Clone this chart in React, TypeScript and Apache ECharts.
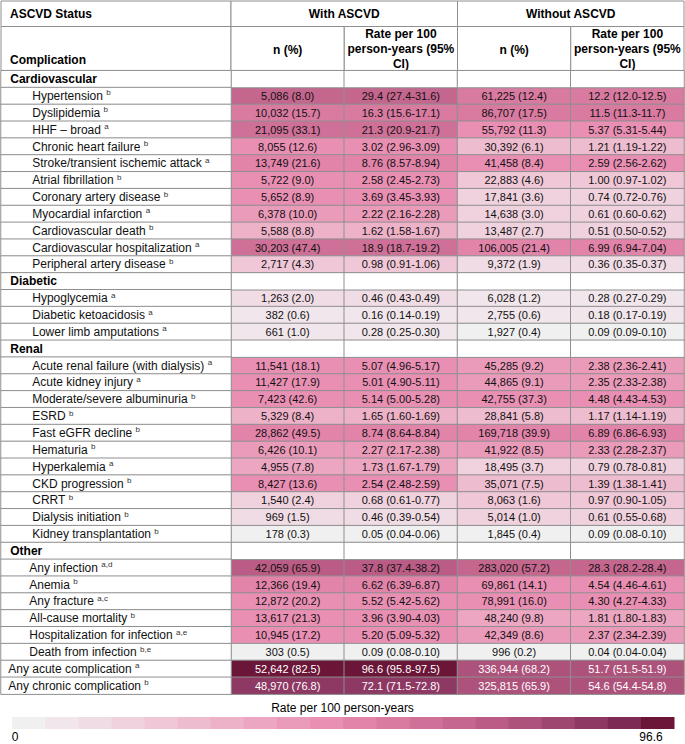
import React, { useEffect, useRef } from "react";
import * as echarts from "echarts";

// ---------- data ----------
const rowLabels = [
  "Cardiovascular",
  "Hypertension",
  "Dyslipidemia",
  "HHF – broad",
  "Chronic heart failure",
  "Stroke/transient ischemic attack",
  "Atrial fibrillation",
  "Coronary artery disease",
  "Myocardial infarction",
  "Cardiovascular death",
  "Cardiovascular hospitalization",
  "Peripheral artery disease",
  "Diabetic",
  "Hypoglycemia",
  "Diabetic ketoacidosis",
  "Lower limb amputations",
  "Renal",
  "Acute renal failure (with dialysis)",
  "Acute kidney injury",
  "Moderate/severe albuminuria",
  "ESRD",
  "Fast eGFR decline",
  "Hematuria",
  "Hyperkalemia",
  "CKD progression",
  "CRRT",
  "Dialysis initiation",
  "Kidney transplantation",
  "Other",
  "Any infection",
  "Anemia",
  "Any fracture",
  "All-cause mortality",
  "Hospitalization for infection",
  "Death from infection",
  "Any acute complication",
  "Any chronic complication",
];

const rowSup = [
  "", "b", "b", "a", "b", "a", "b", "b", "a", "b", "a", "b",
  "", "a", "a", "a",
  "", "a", "a", "b", "b", "b", "b", "a", "b", "b", "b", "b",
  "", "a,d", "b", "a,c", "b", "a,e", "b,e",
  "a", "b",
];

// g = group heading, i = item, o = item of "Other", t = total
const rowType = [
  "g", "i", "i", "i", "i", "i", "i", "i", "i", "i", "i", "i",
  "g", "i", "i", "i",
  "g", "i", "i", "i", "i", "i", "i", "i", "i", "i", "i", "i",
  "g", "o", "o", "o", "o", "o", "o",
  "t", "t",
];

const nWith = [
  "", "5,086 (8.0)", "10,032 (15.7)", "21,095 (33.1)", "8,055 (12.6)", "13,749 (21.6)",
  "5,722 (9.0)", "5,652 (8.9)", "6,378 (10.0)", "5,588 (8.8)", "30,203 (47.4)", "2,717 (4.3)",
  "", "1,263 (2.0)", "382 (0.6)", "661 (1.0)",
  "", "11,541 (18.1)", "11,427 (17.9)", "7,423 (42.6)", "5,329 (8.4)", "28,862 (49.5)",
  "6,426 (10.1)", "4,955 (7.8)", "8,427 (13.6)", "1,540 (2.4)", "969 (1.5)", "178 (0.3)",
  "", "42,059 (65.9)", "12,366 (19.4)", "12,872 (20.2)", "13,617 (21.3)", "10,945 (17.2)", "303 (0.5)",
  "52,642 (82.5)", "48,970 (76.8)",
];

const rateWith = [
  "", "29.4 (27.4-31.6)", "16.3 (15.6-17.1)", "21.3 (20.9-21.7)", "3.02 (2.96-3.09)", "8.76 (8.57-8.94)",
  "2.58 (2.45-2.73)", "3.69 (3.45-3.93)", "2.22 (2.16-2.28)", "1.62 (1.58-1.67)", "18.9 (18.7-19.2)", "0.98 (0.91-1.06)",
  "", "0.46 (0.43-0.49)", "0.16 (0.14-0.19)", "0.28 (0.25-0.30)",
  "", "5.07 (4.96-5.17)", "5.01 (4.90-5.11)", "5.14 (5.00-5.28)", "1.65 (1.60-1.69)", "8.74 (8.64-8.84)",
  "2.27 (2.17-2.38)", "1.73 (1.67-1.79)", "2.54 (2.48-2.59)", "0.68 (0.61-0.77)", "0.46 (0.39-0.54)", "0.05 (0.04-0.06)",
  "", "37.8 (37.4-38.2)", "6.62 (6.39-6.87)", "5.52 (5.42-5.62)", "3.96 (3.90-4.03)", "5.20 (5.09-5.32)", "0.09 (0.08-0.10)",
  "96.6 (95.8-97.5)", "72.1 (71.5-72.8)",
];

const nWithout = [
  "", "61,225 (12.4)", "86,707 (17.5)", "55,792 (11.3)", "30,392 (6.1)", "41,458 (8.4)",
  "22,883 (4.6)", "17,841 (3.6)", "14,638 (3.0)", "13,487 (2.7)", "106,005 (21.4)", "9,372 (1.9)",
  "", "6,028 (1.2)", "2,755 (0.6)", "1,927 (0.4)",
  "", "45,285 (9.2)", "44,865 (9.1)", "42,755 (37.3)", "28,841 (5.8)", "169,718 (39.9)",
  "41,922 (8.5)", "18,495 (3.7)", "35,071 (7.5)", "8,063 (1.6)", "5,014 (1.0)", "1,845 (0.4)",
  "", "283,020 (57.2)", "69,861 (14.1)", "78,991 (16.0)", "48,240 (9.8)", "42,349 (8.6)", "996 (0.2)",
  "336,944 (68.2)", "325,815 (65.9)",
];

const rateWithout = [
  "", "12.2 (12.0-12.5)", "11.5 (11.3-11.7)", "5.37 (5.31-5.44)", "1.21 (1.19-1.22)", "2.59 (2.56-2.62)",
  "1.00 (0.97-1.02)", "0.74 (0.72-0.76)", "0.61 (0.60-0.62)", "0.51 (0.50-0.52)", "6.99 (6.94-7.04)", "0.36 (0.35-0.37)",
  "", "0.28 (0.27-0.29)", "0.18 (0.17-0.19)", "0.09 (0.09-0.10)",
  "", "2.38 (2.36-2.41)", "2.35 (2.33-2.38)", "4.48 (4.43-4.53)", "1.17 (1.14-1.19)", "6.89 (6.86-6.93)",
  "2.33 (2.28-2.37)", "0.79 (0.78-0.81)", "1.39 (1.38-1.41)", "0.97 (0.90-1.05)", "0.61 (0.55-0.68)", "0.09 (0.08-0.10)",
  "", "28.3 (28.2-28.4)", "4.54 (4.46-4.61)", "4.30 (4.27-4.33)", "1.81 (1.80-1.83)", "2.37 (2.34-2.39)", "0.04 (0.04-0.04)",
  "51.7 (51.5-51.9)", "54.6 (54.4-54.8)",
];

const statusHeaders = ["With ASCVD", "Without ASCVD"];
const columnHeaders = ["n (%)", "Rate per 100\nperson-years (95%\nCI)", "n (%)", "Rate per 100\nperson-years (95%\nCI)"];
const legendTitle = "Rate per 100 person-years";
const legendMinLabel = "0";
const legendMaxLabel = "96.6";

// colour scale (20 steps)
const palette = [
  "#f0f0f0", "#f0e6eb", "#f0dce5", "#f0d2de", "#efc7d6",
  "#eebccf", "#edb1c8", "#eca6c1", "#eb9bba", "#e98fb3",
  "#e284aa", "#d97aa1", "#cf7098", "#c5668e", "#ba5c85",
  "#ad527b", "#9e4570", "#8e3864", "#7d2a55", "#6b1638",
];
const bounds = [0, 0.12, 0.33, 0.5, 0.8, 1.1, 1.5, 1.7, 2.0, 2.5, 6, 10, 17, 25, 35, 45, 60, 70, 80, 90, 1000];
const EMPTY = -1; // value of blank (white) cells

// ---------- layout ----------
const FONT = '"Liberation Sans", Arial, Helvetica, sans-serif';
const X0 = 1;
const XL = 231;
const XR = 684;
const COLW = (XR - XL) / 4;
const Y0 = 1;
const Y1 = 26.5;
const Y2 = 70.7;
const ROWH = 16.85;
const TABLE_H = ROWH * rowLabels.length;
const LINE = "#8f8f8f";

export default function App() {
  const ref = useRef<HTMLDivElement>(null);

  useEffect(() => {
    if (!ref.current) return;
    const chart = echarts.init(ref.current, null, { renderer: "svg" });

    const cellText = [nWith, rateWith, nWithout, rateWithout];
    const rateOf = (c: number, r: number) => parseFloat((c < 2 ? rateWith : rateWithout)[r]);

    const valueCells: any[] = [];
    const emptyCells: any[] = [];
    rowLabels.forEach((_, r) => {
      for (let c = 0; c < 4; c++) {
        if (rowType[r] === "g") {
          emptyCells.push([c, r, EMPTY]);
        } else {
          const v = rateOf(c, r);
          const item: any = { value: [c, r, v] };
          if (v > 45) item.label = { color: "#ffffff" };
          valueCells.push(item);
        }
      }
    });

    const indentOf = (t: string) => (t === "g" ? 10 : t === "o" ? 29 : t === "t" ? 8 : 32);
    const labelCells = rowLabels.map((_, r) => ({
      value: [0, r, EMPTY],
      label: { position: [indentOf(rowType[r]), "50%"] },
    }));

    const pieces: any[] = [{ lt: 0, color: "#ffffff" }].concat(
      palette.map((color, i) => ({ gte: bounds[i], lt: bounds[i + 1], color })) as any
    );

    const graphics: any[] = [];
    const rect = (x: number, y: number, w: number, h: number) =>
      graphics.push({
        type: "rect",
        shape: { x, y, width: w, height: h },
        style: { fill: "#ffffff", stroke: LINE, lineWidth: 1 },
        silent: true,
        z: 1,
      });
    const text = (t: string, x: number, y: number, align: string, bold: boolean, lh = 15) =>
      graphics.push({
        type: "text",
        x,
        y,
        style: {
          text: t,
          fill: "#000000",
          fontFamily: FONT,
          fontSize: 12,
          fontWeight: bold ? "bold" : "normal",
          align,
          verticalAlign: "middle",
          lineHeight: lh,
        },
        silent: true,
        z: 2,
      });

    // header row 1
    rect(X0, Y0, XL - X0, Y1 - Y0);
    rect(XL, Y0, COLW * 2, Y1 - Y0);
    rect(XL + COLW * 2, Y0, COLW * 2, Y1 - Y0);
    text("ASCVD Status", 10, 14, "left", true);
    statusHeaders.forEach((h, i) => text(h, XL + COLW * (2 * i + 1), 14, "center", true));
    // header row 2
    rect(X0, Y1, XL - X0, Y2 - Y1);
    text("Complication", 10, 60, "left", true);
    columnHeaders.forEach((h, i) => {
      rect(XL + COLW * i, Y1, COLW, Y2 - Y1);
      text(h, XL + COLW * (i + 0.5), i % 2 === 0 ? 50 : 48.5, "center", true);
    });

    // colour legend
    const LX = 12;
    const LW = 662;
    const LY = 717;
    const LH = 12;
    text(legendTitle, 342.5, 708, "center", false, 13);
    palette.forEach((color, i) =>
      graphics.push({
        type: "rect",
        shape: { x: LX + (LW / palette.length) * i, y: LY, width: LW / palette.length + 0.5, height: LH },
        style: { fill: color },
        silent: true,
      })
    );
    text(legendMinLabel, LX + 3, 737, "center", false, 12);
    text(legendMaxLabel, 651, 737, "center", false, 12);

    chart.setOption({
      animation: false,
      backgroundColor: "#ffffff",
      grid: [
        { left: X0, top: Y2, width: XL - X0, height: TABLE_H },
        { left: XL, top: Y2, width: XR - XL, height: TABLE_H },
      ],
      xAxis: [
        { type: "category", gridIndex: 0, data: ["label"], show: false },
        { type: "category", gridIndex: 1, data: ["nWith", "rateWith", "nWithout", "rateWithout"], show: false },
      ],
      yAxis: [
        { type: "category", gridIndex: 0, data: rowLabels, inverse: true, show: false },
        { type: "category", gridIndex: 1, data: rowLabels, inverse: true, show: false },
      ],
      visualMap: {
        type: "piecewise",
        show: false,
        seriesIndex: [0, 1, 2],
        dimension: 2,
        pieces,
      },
      series: [
        {
          type: "heatmap",
          xAxisIndex: 1,
          yAxisIndex: 1,
          data: valueCells,
          itemStyle: { borderColor: LINE, borderWidth: 1 },
          emphasis: { disabled: true },
          label: {
            show: true,
            color: "#111111",
            fontFamily: FONT,
            fontSize: 11,
            textBorderWidth: 0,
            formatter: (p: any) => cellText[p.value[0]][p.value[1]],
          },
        },
        {
          type: "heatmap",
          xAxisIndex: 1,
          yAxisIndex: 1,
          data: emptyCells,
          itemStyle: { borderColor: LINE, borderWidth: 1 },
          emphasis: { disabled: true },
          label: { show: false },
        },
        {
          type: "heatmap",
          xAxisIndex: 0,
          yAxisIndex: 0,
          data: labelCells,
          itemStyle: { borderColor: LINE, borderWidth: 1 },
          emphasis: { disabled: true },
          label: {
            show: true,
            align: "left",
            verticalAlign: "middle",
            textBorderWidth: 0,
            formatter: (p: any) => {
              const r = p.value[1];
              if (rowType[r] === "g") return `{g|${rowLabels[r]}}`;
              return `{t|${rowLabels[r]} }{s|${rowSup[r]}}`;
            },
            rich: {
              g: { fontFamily: FONT, fontSize: 12, fontWeight: "bold", color: "#000000", lineHeight: 14 },
              t: { fontFamily: FONT, fontSize: 12, color: "#111111", lineHeight: 14 },
              s: { fontFamily: FONT, fontSize: 8, color: "#333333", lineHeight: 9, verticalAlign: "top" },
            },
          },
        },
      ],
      graphic: graphics,
    });

    return () => chart.dispose();
  }, []);

  return (
    <div
      ref={ref}
      style={{ position: "absolute", left: 0, top: 0, width: 685, height: 744, background: "#ffffff" }}
    />
  );
}
